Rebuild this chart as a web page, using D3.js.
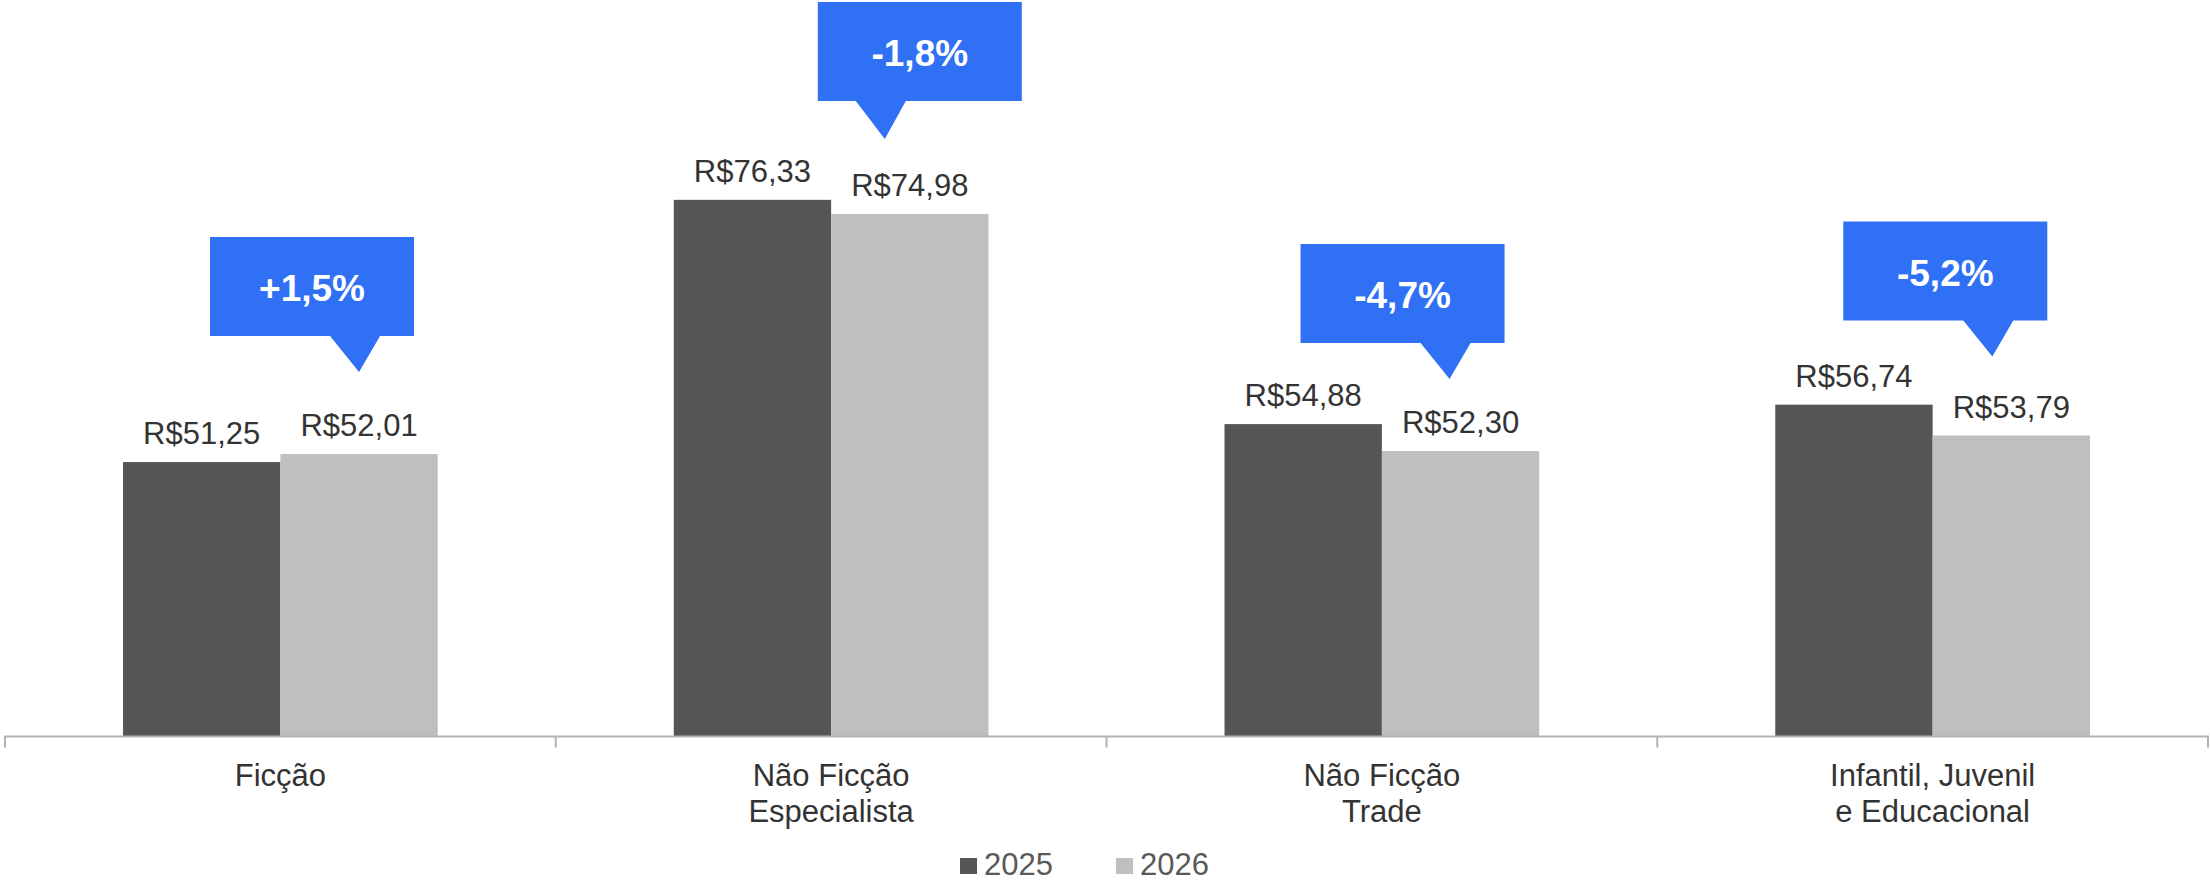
<!DOCTYPE html>
<html>
<head>
<meta charset="utf-8">
<script src="https://cdn.jsdelivr.net/npm/d3@7"></script>
<style>
  body { margin: 0; background: #fff; }
  svg { display: block; font-family: 'Liberation Sans', Arial, sans-serif; }
</style>
</head>
<body>
<script>
// data
const categories = [
  ['Ficção'],
  ['Não Ficção', 'Especialista'],
  ['Não Ficção', 'Trade'],
  ['Infantil, Juvenil', 'e Educacional']
];
const series = ['2025', '2026'];
const values2025 = [51.25, 76.33, 54.88, 56.74];
const values2026 = [52.01, 74.98, 52.30, 53.79];

let w = 2210,
  h = 883,
  axisY = 736.5,
  colors = ['#555555', '#bfbfbf'],
  blue = '#2f70f5';

const br = d3.formatLocale({
  decimal: ',',
  thousands: '.',
  grouping: [3],
  currency: ['R$', ''],
  minus: '-'
});
const money = br.format('$.2f');
const pct = br.format('+.1%');

const idx = d3.range(categories.length);

let xScale = d3.scaleBand()
  .domain(idx)
  .range([5, 2208])
  .padding(0);

// gap between groups = 1.5 bar widths
const barW = xScale.bandwidth() / 3.5;

let yScale = d3.scaleLinear()
  .domain([25, 90])
  .range([axisY, axisY - 65 * 10.455]);

let svg = d3.select('body')
  .append('svg')
  .attr('width', w)
  .attr('height', h);

const rows = idx.map(i => [values2025[i], values2026[i]]);
const barX = (i, s) => xScale(i) + xScale.bandwidth() / 2 - barW + s * barW;

// bars
idx.forEach(i => {
  rows[i].forEach((v, s) => {
    svg.append('rect')
      .attr('x', barX(i, s))
      .attr('y', yScale(v))
      .attr('width', barW)
      .attr('height', axisY - yScale(v))
      .attr('fill', colors[s]);

    svg.append('text')
      .text(money(v))
      .attr('x', barX(i, s) + barW / 2)
      .attr('y', yScale(v) - 18)
      .attr('text-anchor', 'middle')
      .attr('font-size', '31px')
      .attr('fill', '#333');
  });
});

// axis line + ticks at group boundaries
svg.append('line')
  .attr('x1', 4).attr('x2', 2209)
  .attr('y1', axisY).attr('y2', axisY)
  .attr('stroke', '#b3b3b3')
  .attr('stroke-width', 2);

idx.concat([categories.length]).forEach(i => {
  const x = i < categories.length ? xScale(i) : xScale(i - 1) + xScale.bandwidth();
  svg.append('line')
    .attr('x1', x).attr('x2', x)
    .attr('y1', axisY).attr('y2', axisY + 11)
    .attr('stroke', '#b3b3b3')
    .attr('stroke-width', 2);
});

// category labels
svg.selectAll('text.cat')
  .data(categories)
  .enter()
  .append('text')
  .attr('class', 'cat')
  .attr('text-anchor', 'middle')
  .attr('font-size', '31px')
  .attr('fill', '#333')
  .each(function(d, i) {
    d3.select(this).selectAll('tspan')
      .data(d)
      .enter()
      .append('tspan')
      .attr('x', xScale(i) + xScale.bandwidth() / 2)
      .attr('y', (l, j) => 785.7 + j * 36)
      .text(l => l);
  });

// callouts with % change, pointing at the 2026 bar
// layout tweaks: tip shift from 2026 bar centre, lift above it, box left from tip
const calloutLayout = [
  { dx: 0, lift: 82, box: 149, ptr: 36 },
  { dx: -25, lift: 75, box: 67, ptr: 38 },
  { dx: -11, lift: 72, box: 149, ptr: 36 },
  { dx: -19, lift: 79, box: 149, ptr: 36 }
];
const boxW = 204, boxH = 99;

idx.forEach(i => {
  const L = calloutLayout[i];
  const tipX = barX(i, 1) + barW / 2 + L.dx;
  const tipY = yScale(values2026[i]) - L.lift;
  const left = tipX - L.box;
  const top = tipY - L.ptr - boxH;
  const g = svg.append('g');

  g.append('path')
    .attr('d', [
      'M', left, top,
      'H', left + boxW,
      'V', top + boxH,
      'H', tipX + 21,
      'L', tipX, tipY,
      'L', tipX - 29, top + boxH,
      'H', left,
      'Z'
    ].join(' '))
    .attr('fill', blue);

  g.append('text')
    .text(pct(values2026[i] / values2025[i] - 1))
    .attr('x', left + boxW / 2)
    .attr('y', top + 64)
    .attr('text-anchor', 'middle')
    .attr('font-size', '37px')
    .attr('font-weight', 'bold')
    .attr('fill', '#fff');
});

// legend
const legend = svg.selectAll('g.legend')
  .data(series)
  .enter()
  .append('g')
  .attr('class', 'legend')
  .attr('transform', (d, i) => 'translate(' + (960 + i * 156) + ',858)');

legend.append('rect')
  .attr('width', 17)
  .attr('height', 16)
  .attr('fill', (d, i) => colors[i]);

legend.append('text')
  .text(d => d)
  .attr('x', 24)
  .attr('y', 17)
  .attr('font-size', '31px')
  .attr('fill', '#595959');
</script>
</body>
</html>
